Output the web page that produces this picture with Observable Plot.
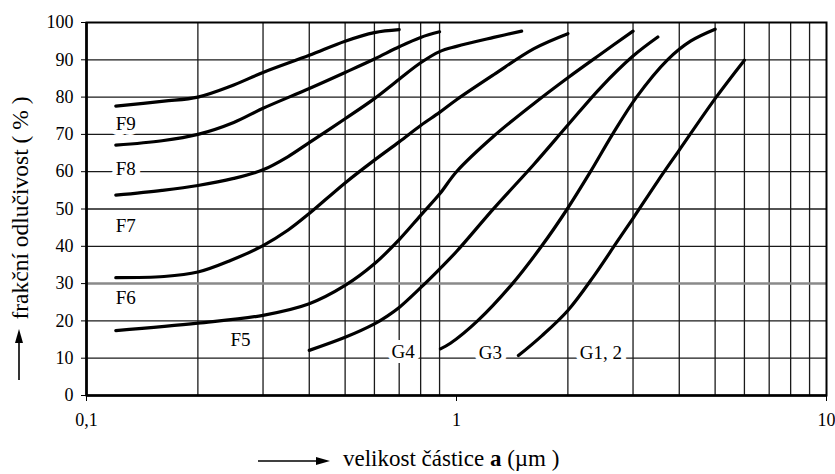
<!DOCTYPE html>
<html><head><meta charset="utf-8">
<script src="https://cdn.jsdelivr.net/npm/d3@7"></script>
<script src="https://cdn.jsdelivr.net/npm/@observablehq/plot@0.6"></script>
<style>
body{margin:0;background:#fff;}
#chart{width:835px;height:474px;}
</style></head><body><div id="chart"></div>
<script>
// ---- data ----
const seriesNames = ["F9","F8","F7","F6","F5","G4","G3","G1, 2"];
const xF9 = [0.12, 0.162, 0.2, 0.245, 0.3, 0.4, 0.5, 0.6, 0.7];
const yF9 = [77.6, 78.9, 80.0, 82.9, 86.6, 91.2, 95.0, 97.3, 98.1];
const xF8 = [0.12, 0.16, 0.2, 0.25, 0.3, 0.4, 0.5, 0.6, 0.7, 0.8, 0.9];
const yF8 = [67.1, 68.3, 70.0, 73.2, 77.0, 82.3, 86.6, 90.2, 93.5, 96.0, 97.5];
const xF7 = [0.12, 0.16, 0.2, 0.25, 0.3, 0.35, 0.4, 0.5, 0.6, 0.7, 0.8, 0.9, 1.0, 1.26, 1.5];
const yF7 = [53.7, 55.0, 56.3, 58.2, 60.5, 64.0, 67.8, 74.2, 79.6, 84.8, 89.2, 92.2, 93.6, 96.0, 97.7];
const xF6 = [0.12, 0.162, 0.2, 0.245, 0.3, 0.35, 0.4, 0.5, 0.6, 0.7, 0.8, 0.9, 1.0, 1.26, 1.62, 2.0];
const yF6 = [31.6, 31.9, 33.1, 36.2, 40.2, 44.3, 48.8, 57.0, 63.1, 68.0, 72.4, 75.9, 79.3, 86.0, 93.0, 97.0];
const xF5 = [0.12, 0.2, 0.3, 0.4, 0.5, 0.6, 0.7, 0.8, 0.9, 1.0, 1.26, 1.62, 2.0, 2.45, 3.0];
const yF5 = [17.4, 19.4, 21.5, 24.6, 29.5, 35.3, 41.8, 48.3, 54.0, 60.0, 69.5, 78.3, 85.2, 91.5, 97.7];
const xG4 = [0.4, 0.5, 0.6, 0.65, 0.7, 0.8, 0.9, 1.0, 1.26, 1.62, 2.0, 2.45, 3.0, 3.5];
const yG4 = [12.1, 15.6, 19.2, 21.3, 23.6, 28.9, 33.9, 38.6, 50.1, 62.0, 72.5, 82.5, 91.0, 96.1];
const xG3 = [0.905, 0.963, 1.14, 1.417, 1.697, 1.992, 2.302, 2.64, 3.066, 3.718, 4.29, 5.0];
const yG3 = [12.5, 14.0, 20.0, 30.0, 40.0, 50.0, 60.0, 70.0, 80.0, 90.0, 95.0, 98.2];
const xG12 = [1.47, 1.7, 2.0, 2.35, 2.72, 3.0, 3.5, 4.0, 5.0, 6.0];
const yG12 = [10.7, 16.0, 22.8, 32.0, 41.3, 47.5, 57.5, 65.8, 79.6, 89.9];

const labelText = ["F9","F8","F7","F6","F5","G4","G3","G1, 2"];
const labelX = [0.12, 0.12, 0.12, 0.12, 0.245, 0.667, 1.149, 2.154];
const labelY = [72.7, 60.8, 45.6, 26.2, 14.8, 11.6, 11.3, 11.3];

const yTicks = [0,10,20,30,40,50,60,70,80,90,100];
const xTicks = [0.1, 1, 10];
const xTickLabels = ["0,1", "1", "10"];
const xGrid = [0.2,0.3,0.4,0.5,0.6,0.7,0.8,0.9,2,3,4,5,6,7,8,9];
const yGrid = [10,20,40,50,60,70,80,90];
const yGridGrey = [30];

const xTitle = ["velikost částice ", "a", " (µm )"];
const yTitle = "frakční odlučivost ( % )";

// ---- build table ----
const seriesX = [xF9,xF8,xF7,xF6,xF5,xG4,xG3,xG12];
const seriesY = [yF9,yF8,yF7,yF6,yF5,yG4,yG3,yG12];
const data = [];
seriesNames.forEach((n, k) => seriesX[k].forEach((x, i) => data.push({name: n, x, y: seriesY[k][i]})));
const labels = labelText.map((t, i) => ({text: t, x: labelX[i], y: labelY[i]}));

const font = "'Liberation Serif', 'Times New Roman', serif";

const plot = Plot.plot({
  width: 835, height: 474,
  marginLeft: 86, marginRight: 9, marginTop: 22, marginBottom: 79,
  x: {type: "log", domain: [0.1, 10], axis: null},
  y: {domain: [0, 100], axis: null},
  style: {fontFamily: font, background: "white", color: "black"},
  marks: [
    Plot.ruleX(xGrid, {stroke: "#1a1a1a", strokeWidth: 1.3}),
    Plot.ruleY(yGrid, {stroke: "#1a1a1a", strokeWidth: 1.3}),
    Plot.ruleY(yGridGrey, {stroke: "#8a8a8a", strokeWidth: 2.5}),
    Plot.frame({stroke: "#000", strokeWidth: 2}),
    Plot.ruleX([0.1], {stroke: "#000", strokeWidth: 2.6}),
    Plot.ruleY([0], {stroke: "#000", strokeWidth: 2.6}),
    Plot.axisY(yTicks, {tickSize: 5, tickPadding: 8, fontSize: 18, label: null, tickFormat: d => String(d)}),
    Plot.axisX(xTicks, {tickSize: 6, tickPadding: 12, fontSize: 18, label: null,
      tickFormat: d => xTickLabels[xTicks.indexOf(d)]}),
    Plot.line(data, {x: "x", y: "y", z: "name", curve: "catmull-rom", stroke: "#000", strokeWidth: 3.2}),
    Plot.text(labels, {x: "x", y: "y", text: "text", textAnchor: "start", fontSize: 19,
      fill: "#000", stroke: "white", strokeWidth: 10})
  ]
});
document.getElementById("chart").appendChild(plot);

// ---- axis titles with arrows ----
const svg = d3.select(plot);
const g = svg.append("g").attr("font-family", font).attr("fill", "#000");
// x title
g.append("line").attr("x1", 258).attr("x2", 318).attr("y1", 461).attr("y2", 461)
  .attr("stroke", "#000").attr("stroke-width", 1.6);
g.append("path").attr("d", "M316,457 L330,461 L316,465 Z").attr("fill", "#000");
const xt = g.append("text").attr("x", 343).attr("y", 466).attr("text-anchor", "start").attr("font-size", 23);
xt.append("tspan").text(xTitle[0]);
xt.append("tspan").attr("font-weight", "bold").text(xTitle[1]);
xt.append("tspan").text(xTitle[2]);
// y title
g.append("line").attr("x1", 19).attr("x2", 19).attr("y1", 380).attr("y2", 340)
  .attr("stroke", "#000").attr("stroke-width", 1.6);
g.append("path").attr("d", "M15,343 L19,329 L23,343 Z").attr("fill", "#000");
g.append("text").attr("transform", "translate(28,208) rotate(-90)")
  .attr("text-anchor", "middle").attr("font-size", 23.5).text(yTitle);
</script></body></html>
